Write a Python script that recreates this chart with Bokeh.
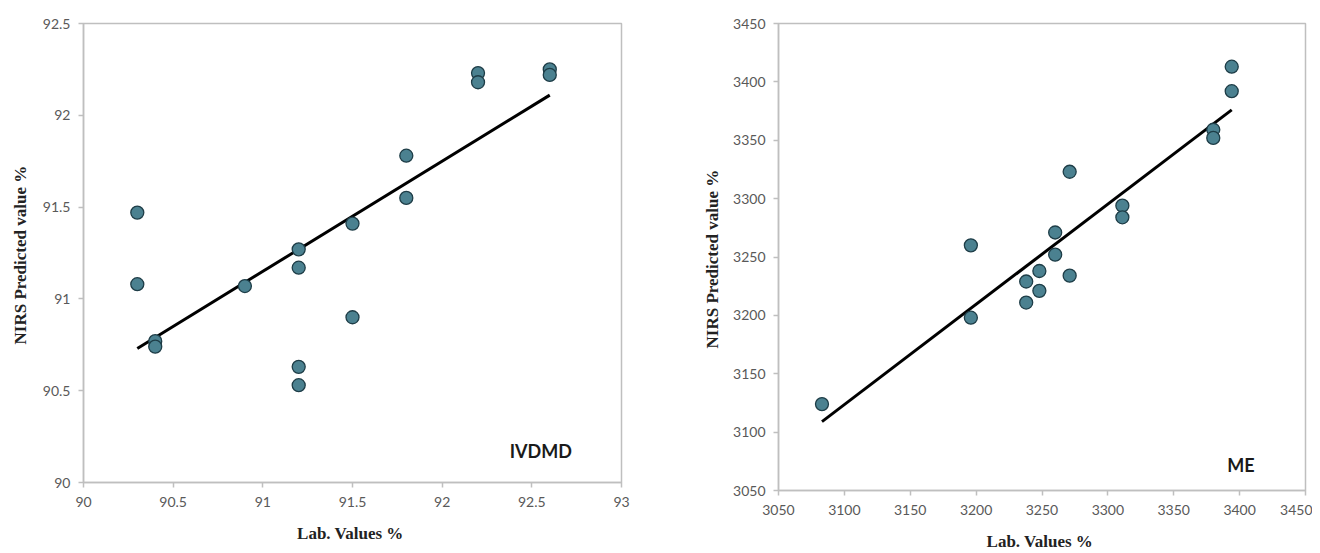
from bokeh.plotting import figure
from bokeh.layouts import row
from bokeh.models import Range1d, FixedTicker, Label
from bokeh.embed import file_html
from bokeh.resources import INLINE

# ---- IVDMD data ----
ivdmd_lab = [90.3, 90.3, 90.4, 90.4, 90.9, 91.2, 91.2, 91.2, 91.2, 91.5, 91.5,
             91.8, 91.8, 92.2, 92.2, 92.6, 92.6]
ivdmd_pred = [91.47, 91.08, 90.77, 90.74, 91.07, 91.27, 91.17, 90.63, 90.53, 91.41, 90.90,
              91.78, 91.55, 92.23, 92.18, 92.25, 92.22]
ivdmd_fit_x = [90.3, 92.6]
ivdmd_fit_y = [90.73, 92.11]
ivdmd_xticks = [90, 90.5, 91, 91.5, 92, 92.5, 93]
ivdmd_xlabels = ["90", "90.5", "91", "91.5", "92", "92.5", "93"]
ivdmd_yticks = [90, 90.5, 91, 91.5, 92, 92.5]
ivdmd_ylabels = ["90", "90.5", "91", "91.5", "92", "92.5"]

# ---- ME data ----
me_lab = [3083, 3196, 3196, 3238, 3238, 3248, 3248, 3260, 3260, 3271, 3271,
          3311, 3311, 3380, 3380, 3394, 3394]
me_pred = [3124, 3260, 3198, 3229, 3211, 3238, 3221, 3271, 3252, 3323, 3234,
           3294, 3284, 3359, 3352, 3413, 3392]
me_fit_x = [3083, 3394]
me_fit_y = [3109, 3376]
me_ticks = [3050, 3100, 3150, 3200, 3250, 3300, 3350, 3400, 3450]
me_labels = ["3050", "3100", "3150", "3200", "3250", "3300", "3350", "3400", "3450"]

AX = "#bfbfbf"
TICK_TXT = "#595959"
FILL = "#4b8190"
EDGE = "#1e3d47"


def style(p, xt, xl, yt, yl):
    p.xgrid.visible = False
    p.ygrid.visible = False
    p.outline_line_color = AX
    p.outline_line_width = 1.5
    p.xaxis.ticker = FixedTicker(ticks=xt)
    p.yaxis.ticker = FixedTicker(ticks=yt)
    p.xaxis.major_label_overrides = {t: s for t, s in zip(xt, xl)}
    p.yaxis.major_label_overrides = {t: s for t, s in zip(yt, yl)}
    for ax in (p.xaxis[0], p.yaxis[0]):
        ax.axis_line_color = AX
        ax.axis_line_width = 1.5
        ax.major_tick_line_color = AX
        ax.major_tick_line_width = 1.5
        ax.major_tick_out = 5
        ax.major_tick_in = 0
        ax.minor_tick_line_color = None
        ax.major_label_text_font = "Lato"
        ax.major_label_text_font_size = "14px"
        ax.major_label_text_color = TICK_TXT
        ax.axis_label_text_font = "Liberation Serif"
        ax.axis_label_text_font_style = "bold"
        ax.axis_label_text_font_size = "17px"
        ax.axis_label_text_color = "#222222"
    p.xaxis.major_label_standoff = 9
    p.yaxis.major_label_standoff = 8


# Left figure
p1 = figure(width=700, height=545, output_backend="svg", toolbar_location=None,
            x_range=Range1d(90, 93), y_range=Range1d(90, 92.5),
            min_border_left=83, min_border_right=79, min_border_top=23, min_border_bottom=62,
            x_axis_label="Lab. Values  %", y_axis_label="NIRS  Predicted value %")
style(p1, ivdmd_xticks, ivdmd_xlabels, ivdmd_yticks, ivdmd_ylabels)
p1.xaxis.axis_label_standoff = 14
p1.yaxis.axis_label_standoff = 10
p1.line(ivdmd_fit_x, ivdmd_fit_y, line_color="black", line_width=3)
p1.scatter(ivdmd_lab, ivdmd_pred, size=13, fill_color=FILL, line_color=EDGE, line_width=1.3)
p1.add_layout(Label(x=92.55, y=90.17, text="IVDMD", text_align="center", text_baseline="middle",
                    text_font="Lato", text_font_style="bold", text_font_size="18px",
                    text_color="#1a1a1a"))

# Right figure
p2 = figure(width=612, height=553, output_backend="svg", toolbar_location=None,
            x_range=Range1d(3050, 3450), y_range=Range1d(3050, 3450),
            min_border_left=76, min_border_right=7, min_border_top=23, min_border_bottom=59,
            x_axis_label="Lab. Values  %", y_axis_label="NIRS  Predicted value %")
style(p2, me_ticks, me_labels, me_ticks, me_labels)
p2.xaxis.axis_label_standoff = 14
p2.yaxis.axis_label_standoff = 8
p2.line(me_fit_x, me_fit_y, line_color="black", line_width=3)
p2.scatter(me_lab, me_pred, size=13, fill_color=FILL, line_color=EDGE, line_width=1.3)
p2.add_layout(Label(x=3401, y=3072, text="ME", text_align="center", text_baseline="middle",
                    text_font="Lato", text_font_style="bold", text_font_size="18px",
                    text_color="#1a1a1a"))

layout = row(p1, p2)
open("out.html", "w").write(file_html(layout, INLINE))
